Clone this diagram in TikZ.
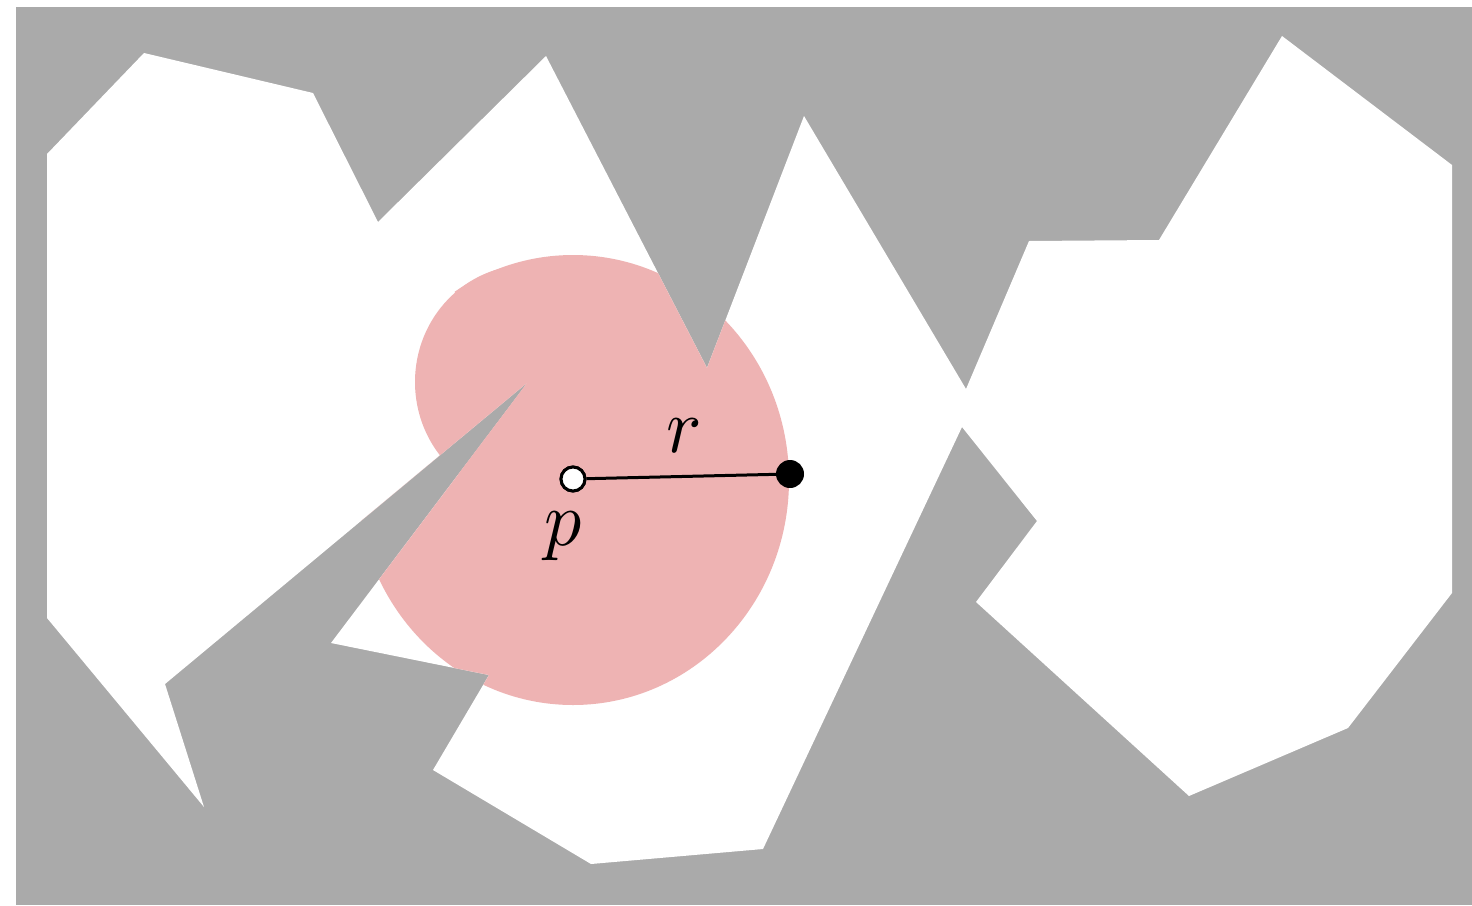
\documentclass[tikz,border=0pt]{standalone}
\definecolor{obst}{RGB}{170,170,170}
\definecolor{ball}{RGB}{238,179,179}
\tikzset{
  opendot/.style={circle,draw=black,fill=white,line width=3pt,minimum size=24pt,inner sep=0pt},
  filldot/.style={circle,fill=black,minimum size=28pt,inner sep=0pt},
  radline/.style={line width=3pt},
  lbl/.style={xscale=7.4,yscale=7.8,inner sep=0pt}
}
\begin{document}
\begin{tikzpicture}[x=1pt,y=-1pt]
\useasboundingbox (0,0) rectangle (1472,905);
% obstacle background
\fill[obst] (16,7) rectangle (1472,905);
% free space
\def\freespace{(47,154) -- (144,53) -- (313,93) -- (378,222) -- (546,56) -- (707,368) -- (804,116) -- (966,389) -- (1029,241) -- (1159,240) -- (1282,36) -- (1452,165) -- (1452,593) -- (1348,728) -- (1189,796) -- (976,602) -- (1037,521) -- (962,427) -- (763,849) -- (591,864) -- (433,770) -- (489,675) -- (331,643) -- (528,382) -- (165,684) -- (204,807) -- (47,618) -- cycle}
\fill[white] \freespace;
% geodesic ball
\begin{scope}
  \clip \freespace;
  \fill[ball] (528,382) ellipse[x radius=113pt, y radius=117pt];
  \begin{scope}
    \clip (528,382) -- (300,102) -- (0,102) -- (0,0) -- (1472,0) -- (1472,905) -- (0,905) -- (0,684) -- (165,684) -- cycle;
    \fill[ball] (573,480) ellipse[x radius=216pt, y radius=225pt];
  \end{scope}
\end{scope}
% radius
\node[opendot] (p) at (573,479) {};
\node[filldot] (q) at (790,474) {};
\draw[radline] (p) -- (q);
\node[opendot] at (p) {};
\node[lbl] (plbl) at (563,536) {$p$};
\node[lbl] (rlbl) at (684,436) {$r$};
\end{tikzpicture}
\end{document}
